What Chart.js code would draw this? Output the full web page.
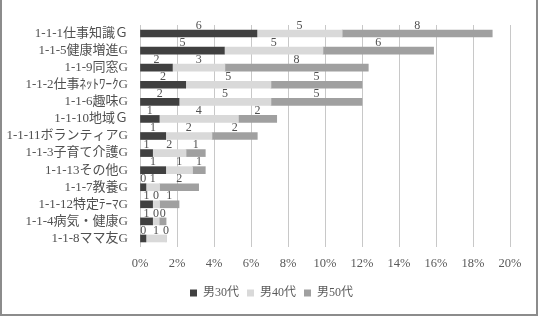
<!DOCTYPE html>
<html>
<head>
<meta charset="utf-8">
<script src="https://cdn.jsdelivr.net/npm/chart.js@4"></script>
<style>
  html, body { margin: 0; padding: 0; background: #fff; }
  #wrap { position: relative; width: 543px; height: 322px; }
</style>
</head>
<body>
<div id="wrap"><canvas id="groupBar"></canvas></div>
<script>
/*
DATA
*/
// group names (top to bottom)
let groups = [
  '1-1-1仕事知識Ｇ',
  '1-1-5健康増進G',
  '1-1-9同窓G',
  '1-1-2仕事ﾈｯﾄﾜｰｸG',
  '1-1-6趣味G',
  '1-1-10地域Ｇ',
  '1-1-11ボランティアG',
  '1-1-3子育て介護G',
  '1-1-13その他G',
  '1-1-7教養G',
  '1-1-12特定ﾃｰﾏG',
  '1-1-4病気・健康G',
  '1-1-8ママ友G'
];

let seriesNames = ['男30代', '男40代', '男50代'];

// bar lengths in %
let pct30 = [6.32, 4.56, 1.75, 2.47, 2.11, 1.04, 1.39, 0.68, 1.39, 0.32, 0.68, 0.68, 0.32];
let pct40 = [4.61, 5.33, 2.84, 4.61, 4.97, 4.28, 2.50, 1.81, 1.45, 0.74, 0.38, 0.36, 1.09];
let pct50 = [8.11, 5.98, 7.75, 4.92, 4.92, 2.07, 2.45, 1.04, 0.69, 2.11, 1.05, 0.37, 0];

// counts printed above each segment
let count30 = [6, 5, 2, 2, 2, 1, 1, 1, 1, 0, 1, 1, 0];
let count40 = [5, 5, 3, 5, 5, 4, 2, 2, 1, 1, 0, 0, 1];
let count50 = [8, 6, 8, 5, 5, 2, 2, 1, 1, 2, 1, 0, 0];

let xTicks = [0, 2, 4, 6, 8, 10, 12, 14, 16, 18, 20];

/*
CHART
*/
let colors = ['#404040', '#d9d9d9', '#a0a0a0'];
let counts = [count30, count40, count50];

Chart.defaults.font.family = "'Liberation Serif', 'Noto Sans CJK JP', serif";
Chart.defaults.color = '#595959';

// draws the counts above every segment
let countLabels = {
  id: 'countLabels',
  afterDatasetsDraw(chart) {
    let ctx = chart.ctx;
    ctx.save();
    ctx.font = "12px 'Liberation Serif', 'Noto Sans CJK JP', serif";
    ctx.fillStyle = '#505050';
    ctx.textAlign = 'center';
    ctx.textBaseline = 'middle';
    chart.data.datasets.forEach((ds, i) => {
      let meta = chart.getDatasetMeta(i);
      meta.data.forEach((bar, j) => {
        let cx = (bar.x + bar.base) / 2;
        ctx.fillText(String(counts[i][j]), cx, bar.y - 8);
      });
    });
    ctx.restore();
  }
};

// frame round the chart (no top edge)
let frame = {
  id: 'frame',
  afterDraw(chart) {
    let ctx = chart.ctx;
    ctx.save();
    ctx.strokeStyle = '#8c8c8c';
    ctx.lineWidth = 2;
    ctx.beginPath();
    ctx.moveTo(1, 0);
    ctx.lineTo(1, 315);
    ctx.lineTo(537, 315);
    ctx.lineTo(537, 0);
    ctx.stroke();
    ctx.restore();
  }
};

let datasets = [pct30, pct40, pct50].map((vals, i) => ({
  label: seriesNames[i],
  data: vals,
  backgroundColor: colors[i],
  borderWidth: 0,
  barThickness: 7
}));

let chart = new Chart(document.getElementById('groupBar'), {
  type: 'bar',
  data: { labels: groups, datasets: datasets },
  options: {
    indexAxis: 'y',
    responsive: true,
    maintainAspectRatio: false,
    animation: false,
    devicePixelRatio: 1,
    layout: { padding: { left: 0, right: 0, top: 25, bottom: 13 } },
    scales: {
      x: {
        stacked: true,
        min: 0,
        max: 20,
        afterBuildTicks: (scale) => { scale.ticks = xTicks.map(v => ({ value: v })); },
        ticks: {
          callback: (v) => v + '%',
          padding: 9,
          font: { size: 12.5 },
          color: '#595959',
          maxRotation: 0
        },
        grid: { color: '#c8c8c8', drawTicks: false },
        border: { display: false },
        afterFit: (scale) => { scale.height = 32; }
      },
      y: {
        stacked: true,
        ticks: {
          padding: 12,
          font: { size: 13 },
          color: '#505050',
          autoSkip: false
        },
        grid: { display: false, drawTicks: false },
        border: { display: false },
        afterFit: (scale) => { scale.width = 140; }
      },
      // empty right axis, only keeps the right margin
      yRight: {
        type: 'linear',
        position: 'right',
        ticks: { display: false },
        grid: { display: false, drawTicks: false },
        border: { display: false },
        afterFit: (scale) => { scale.width = 33; }
      }
    },
    plugins: {
      legend: {
        position: 'bottom',
        labels: {
          boxWidth: 7,
          boxHeight: 7,
          padding: 8,
          font: { size: 12 },
          color: '#595959'
        }
      },
      tooltip: { enabled: false }
    }
  },
  plugins: [countLabels, frame]
});
</script>
</body>
</html>
